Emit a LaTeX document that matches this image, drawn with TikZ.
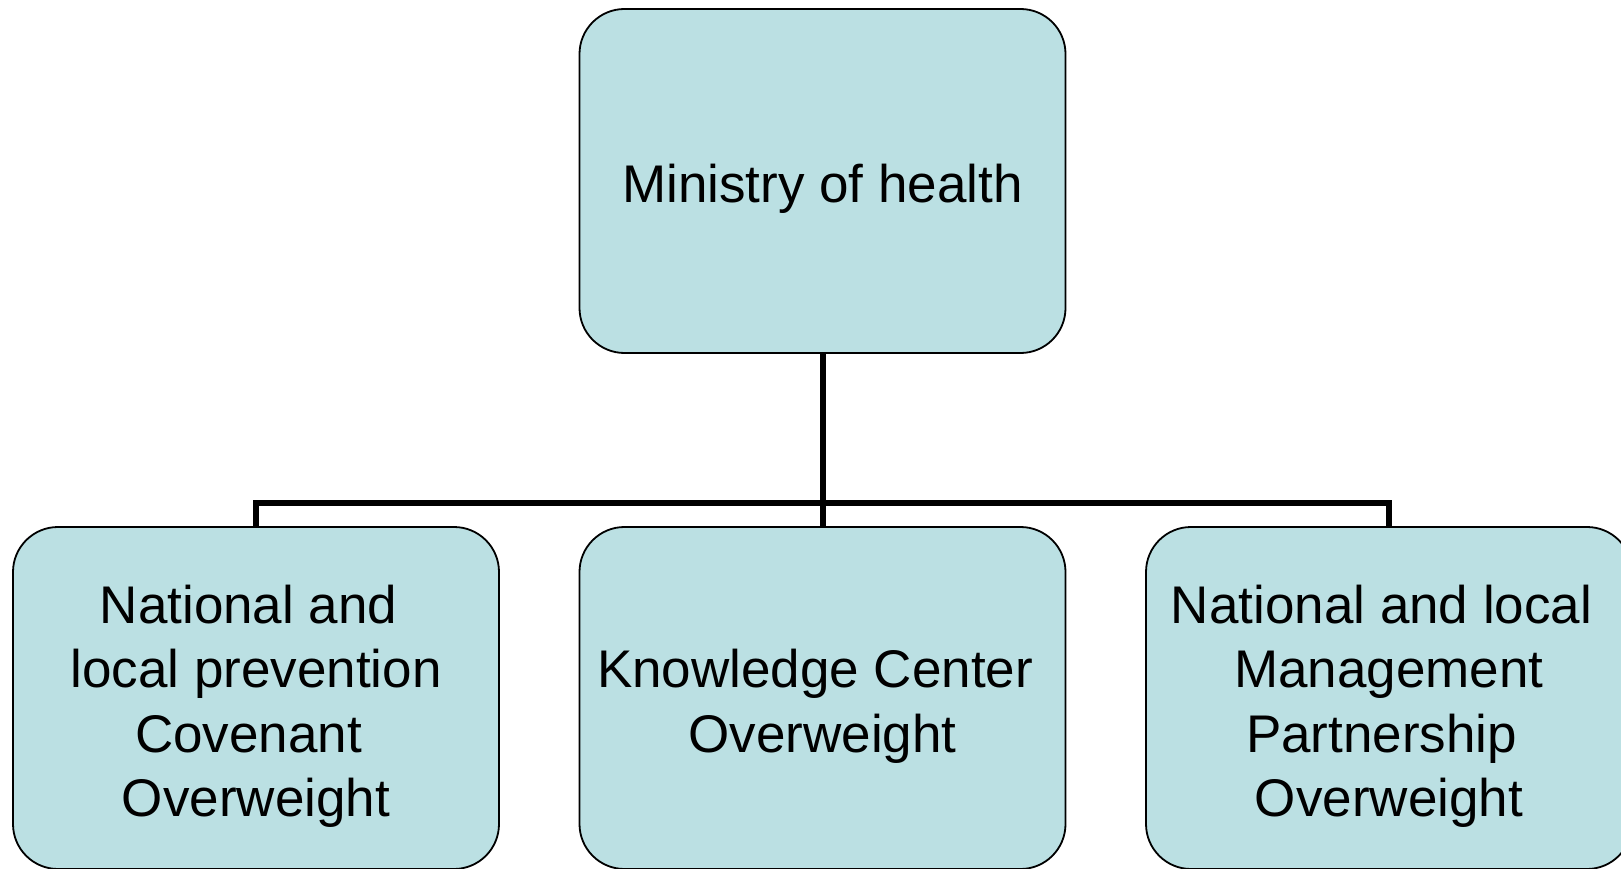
\documentclass[tikz,border=0pt]{standalone}
\usepackage{fontspec}
\setmainfont{Liberation Sans}
\usepackage{xcolor}
\definecolor{boxfill}{RGB}{187,224,227}
\usepackage{tikz}
\newcommand{\trail}{\kern0.28em}
\newcommand{\lift}{\rule{0pt}{54.5pt}}

\begin{document}
\begin{tikzpicture}[x=1pt,y=-1pt,
    unit/.style={draw=black, line width=1.8pt, fill=boxfill, rounded corners=45pt,
      minimum width=486pt, inner sep=0pt, align=center,
      font=\fontsize{53}{64.5}\selectfont},
    link/.style={line width=6pt}]
      \useasboundingbox (0,0) rectangle (1621,869);
      \node[unit, minimum height=344pt] (mini) at (822.5,181) {\lift Ministry of health};
      \node[unit, minimum height=342pt] (prev) at (256,698)
        {\lift National and\trail\\local prevention\\Covenant\trail\\Overweight};
      \node[unit, minimum height=342pt] (know) at (822.5,698)
        {\lift Knowledge Center\trail\\Overweight};
      \node[unit, minimum height=342pt] (mgmt) at (1389,698)
        {\lift National and local\trail\\Management\\Partnership\trail\\Overweight};
      \draw[link] (mini.south) -- ++(0,149) coordinate (split);
      \foreach \c in {prev,know,mgmt}{\draw[link] (split) -| (\c.north);}
    \end{tikzpicture}
\end{document}
